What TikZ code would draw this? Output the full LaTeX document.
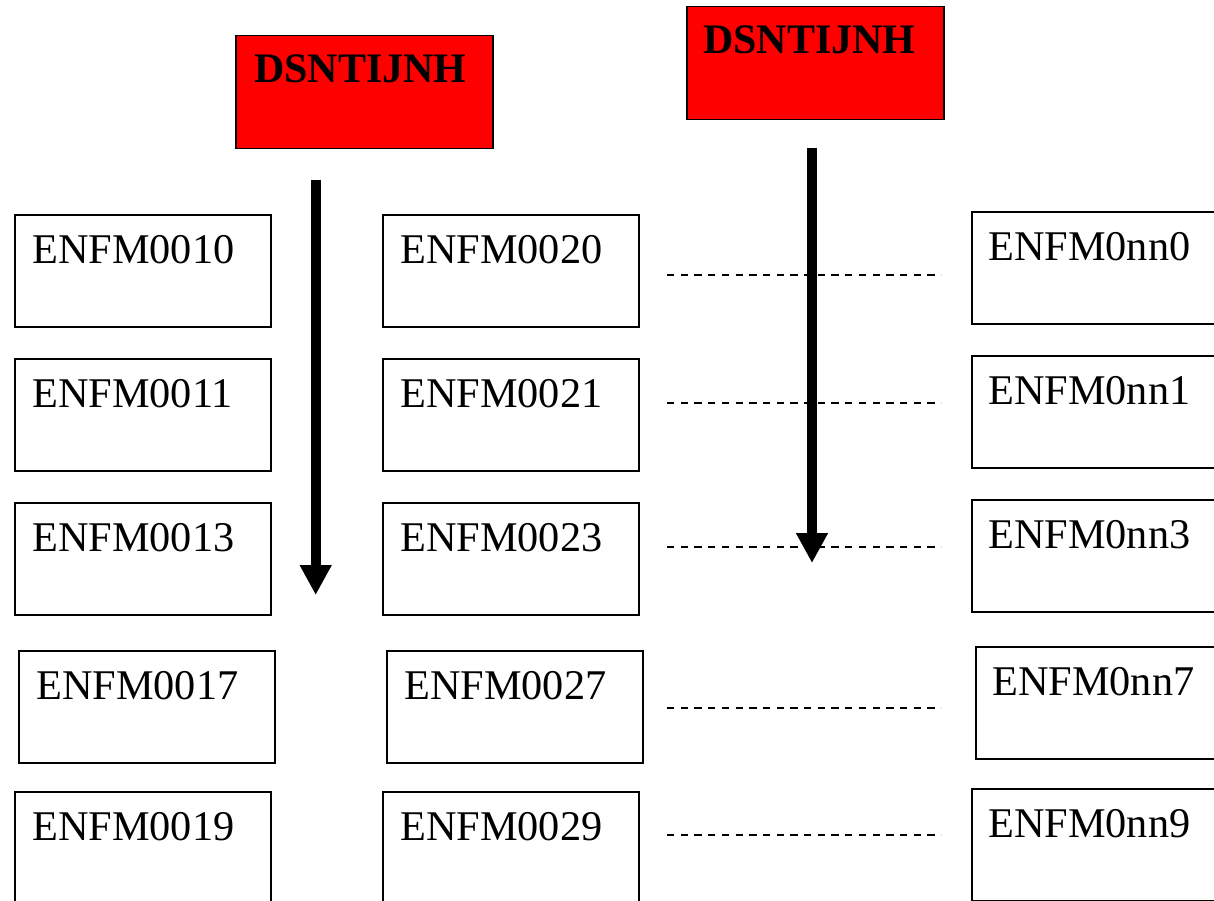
\documentclass[tikz,border=0pt]{standalone}
\usepackage{fontspec}
\setmainfont{Liberation Serif}
\usetikzlibrary{arrows.meta}
\begin{document}
\begin{tikzpicture}[x=1pt,y=-1pt,
  box/.style={draw=black,line width=1.8pt,anchor=north west,minimum width=256pt,minimum height=112pt,inner sep=0pt},
  redbox/.style={draw=black,fill=red,line width=1.5pt,anchor=north west,minimum width=257pt,minimum height=113pt,inner sep=0pt},
  lbl/.style={anchor=base west,inner sep=0pt,font=\fontsize{42.3}{50}\selectfont},
  redlbl/.style={anchor=base west,inner sep=0pt,font=\fontsize{42}{50}\selectfont\bfseries},
  flow/.style={line width=10pt,-{Triangle[length=30pt,width=30pt]}},
  dots/.style={line width=2pt,dash pattern=on 7.3pt off 6.4pt}]
\useasboundingbox (0,0) rectangle (1214,901);
% red header boxes
\node[redbox] (r1) at (235,35) {};
\node[redlbl] (r1t) at ([xshift=19pt,yshift=-48pt]r1.north west) {DSNTIJNH};
\node[redbox] (r2) at (686,6) {};
\node[redlbl] (r2t) at ([xshift=17pt,yshift=-48pt]r2.north west) {DSNTIJNH};
% column 1
\node[box] (a1) at (14,214) {};
\node[box] (a2) at (14,358) {};
\node[box] (a3) at (14,502) {};
\node[box] (a4) at (18,650) {};
\node[box] (a5) at (14,791) {};
% column 2
\node[box] (b1) at (382,214) {};
\node[box] (b2) at (382,358) {};
\node[box] (b3) at (382,502) {};
\node[box] (b4) at (386,650) {};
\node[box] (b5) at (382,791) {};
% column 3
\node[box] (c1) at (971,211) {};
\node[box] (c2) at (971,355) {};
\node[box] (c3) at (971,499) {};
\node[box] (c4) at (975,646) {};
\node[box] (c5) at (971,788) {};
% labels
\foreach \n/\t in {a1/ENFM0010,a2/ENFM0011,a3/ENFM0013,a4/ENFM0017,a5/ENFM0019,
                   b1/ENFM0020,b2/ENFM0021,b3/ENFM0023,b4/ENFM0027,b5/ENFM0029}
  \node[lbl] (\n t) at ([xshift=18pt,yshift=-49pt]\n.north west) {\t};
\foreach \n/\t in {c1/ENFM0nn0,c2/ENFM0nn1,c3/ENFM0nn3,c4/ENFM0nn7,c5/ENFM0nn9}
  \node[lbl] (\n t) at ([xshift=17pt,yshift=-49pt]\n.north west) {\t};
% dashed separators
\foreach \i/\y in {1/275,2/403,3/547,4/708,5/835}{
  \coordinate (d\i s) at (667,\y);
  \coordinate (d\i e) at (941,\y);
  \draw[dots] (d\i s) -- (d\i e);
}
% arrows
\coordinate (f1s) at (315.7,180);
\coordinate (f1e) at (315.7,595);
\coordinate (f2s) at (812,148);
\coordinate (f2e) at (812,563);
\draw[flow] (f1s) -- (f1e);
\draw[flow] (f2s) -- (f2e);
\end{tikzpicture}
\end{document}
